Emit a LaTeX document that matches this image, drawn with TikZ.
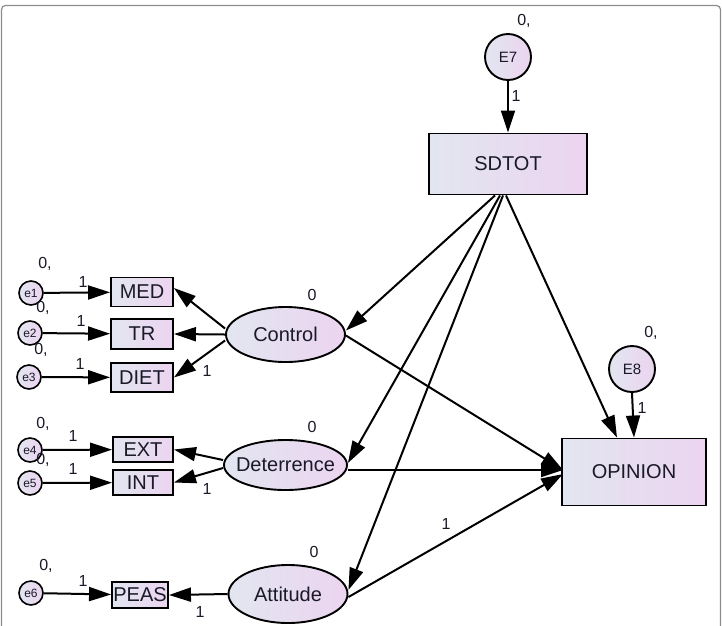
\documentclass[tikz,border=0pt]{standalone}
\usepackage{fontspec}
\setmainfont{Liberation Sans}
\usetikzlibrary{arrows.meta,shapes.geometric}
\definecolor{lc}{RGB}{226,230,240}
\definecolor{rc}{RGB}{236,212,240}
\definecolor{txt}{RGB}{25,25,40}
\newcommand{\zb}[1]{\makebox[0pt]{#1}}
\begin{document}
\begin{tikzpicture}[x=1pt,y=-1pt,
  obs/.style={draw,line width=1.9pt,left color=lc,right color=rc,inner sep=0pt,text=txt,font=\fontsize{20}{20}\selectfont},
  lat/.style={ellipse,draw,line width=1.9pt,left color=lc,right color=rc,inner sep=0pt,text=txt,font=\fontsize{20}{20}\selectfont},
  errs/.style={circle,draw,line width=1.6pt,left color=lc,right color=rc,inner sep=0pt,minimum size=24pt,text=txt,font=\fontsize{12}{12}\selectfont},
  errb/.style={circle,draw,line width=1.9pt,left color=lc,right color=rc,inner sep=0pt,minimum size=46pt,text=txt,font=\fontsize{15}{15}\selectfont},
  arr/.style={-{Triangle[length=22pt,width=14pt]},line width=2pt},
  lbl/.style={inner sep=0pt,text=txt,font=\fontsize{16}{16}\selectfont}]
\useasboundingbox (0,0) rectangle (722,625);
\draw[gray!90,line width=1.2pt,rounded corners=4pt] (1.5,640) -- (1.5,5.5) -- (720.5,5.5) -- (720.5,640);

% nodes
\node[errb] (E7) at (508,57) {E7};
\node[obs,minimum width=158pt,minimum height=61pt] (SDTOT) at (508,164) {SDTOT};
\node[errb] (E8) at (632,369) {E8};
\node[obs,minimum width=144pt,minimum height=67pt] (OPINION) at (634,472) {OPINION};
\node[lat,minimum width=119pt,minimum height=55pt] (Control) at (285.5,334.5) {\zb{Control}};
\node[lat,minimum width=123pt,minimum height=50pt] (Deterrence) at (285.5,465) {\zb{Deterrence}};
\node[lat,minimum width=119pt,minimum height=58pt] (Attitude) at (288,594) {\zb{Attitude}};
\node[obs,minimum width=62pt,minimum height=29pt] (MED) at (142,292) {MED};
\node[obs,minimum width=62pt,minimum height=30pt] (TR) at (142,334) {TR};
\node[obs,minimum width=62pt,minimum height=29pt] (DIET) at (142,377.5) {DIET};
\node[obs,minimum width=60pt,minimum height=25pt] (EXT) at (143,449.5) {EXT};
\node[obs,minimum width=60pt,minimum height=25pt] (INT) at (143,482.5) {INT};
\node[obs,minimum width=56pt,minimum height=26pt] (PEAS) at (140,595) {\zb{PEAS}};
\node[errs] (e1) at (31,293) {e1};
\node[errs] (e2) at (30,333) {e2};
\node[errs] (e3) at (29,377) {e3};
\node[errs] (e4) at (30,450) {e4};
\node[errs] (e5) at (30,483) {e5};
\node[errs] (e6) at (31,593) {e6};

% error paths
\draw[arr] (E7) -- (SDTOT);
\draw[arr] (E8.south) -- (OPINION.north);
\draw[arr] (e1) -- (MED);
\draw[arr] (e2) -- (TR);
\draw[arr] (e3) -- (DIET);
\draw[arr] (e4) -- (EXT);
\draw[arr] (e5) -- (INT);
\draw[arr] (e6) -- (PEAS);

% loadings
\draw[arr] ([yshift=6pt]Control.west) -- ([yshift=4pt]MED.east);
\draw[arr] (Control.west) -- (TR.east);
\draw[arr] ([yshift=-6pt]Control.west) -- (DIET.east);
\draw[arr] ([yshift=5pt]Deterrence.west) -- (EXT.east);
\draw[arr] ([yshift=-3pt]Deterrence.west) -- (INT.east);
\draw[arr] (Attitude.west) -- (PEAS.east);

% structural paths
\draw[arr] ([xshift=-13pt]SDTOT.south) -- ([yshift=4pt]Control.east);
\draw[arr] ([xshift=-8pt]SDTOT.south) -- ([yshift=2pt]Deterrence.east);
\draw[arr] ([xshift=-5pt]SDTOT.south) -- ([yshift=4pt]Attitude.east);
\draw[arr] ([xshift=-2pt]SDTOT.south) -- ([xshift=-17pt]OPINION.north);
\draw[arr] ([yshift=-1pt]Control.east) -- ([xshift=2pt,yshift=2pt]OPINION.west);
\draw[arr] ([yshift=-5pt]Deterrence.east) -- ([xshift=2pt,yshift=2pt]OPINION.west);
\draw[arr] ([yshift=-3pt]Attitude.east) -- ([xshift=2pt,yshift=-2pt]OPINION.west);

% labels
\node[lbl] (l1) at (524,21) {0,};
\node[lbl] (l2) at (516,96) {1};
\node[lbl] (l3) at (651,333) {0,};
\node[lbl] (l4) at (642,408) {1};
\node[lbl] (l5) at (45,264) {0,};
\node[lbl] (l6) at (43,308) {0,};
\node[lbl] (l7) at (41,350) {0,};
\node[lbl] (l8) at (43,424) {0,};
\node[lbl] (l9) at (43,460) {0,};
\node[lbl] (l10) at (46,566) {0,};
\node[lbl] (l11) at (83,282) {1};
\node[lbl] (l12) at (81,321) {1};
\node[lbl] (l13) at (80,364) {1};
\node[lbl] (l14) at (73,436) {1};
\node[lbl] (l15) at (73,469) {1};
\node[lbl] (l16) at (83,581) {1};
\node[lbl] (l17) at (207,371) {1};
\node[lbl] (l18) at (207,489) {1};
\node[lbl] (l19) at (200,612) {1};
\node[lbl] (l20) at (446,524) {1};
\node[lbl] (l21) at (312,295) {0};
\node[lbl] (l22) at (312,427) {0};
\node[lbl] (l23) at (314,552) {0};
\end{tikzpicture}
\end{document}
